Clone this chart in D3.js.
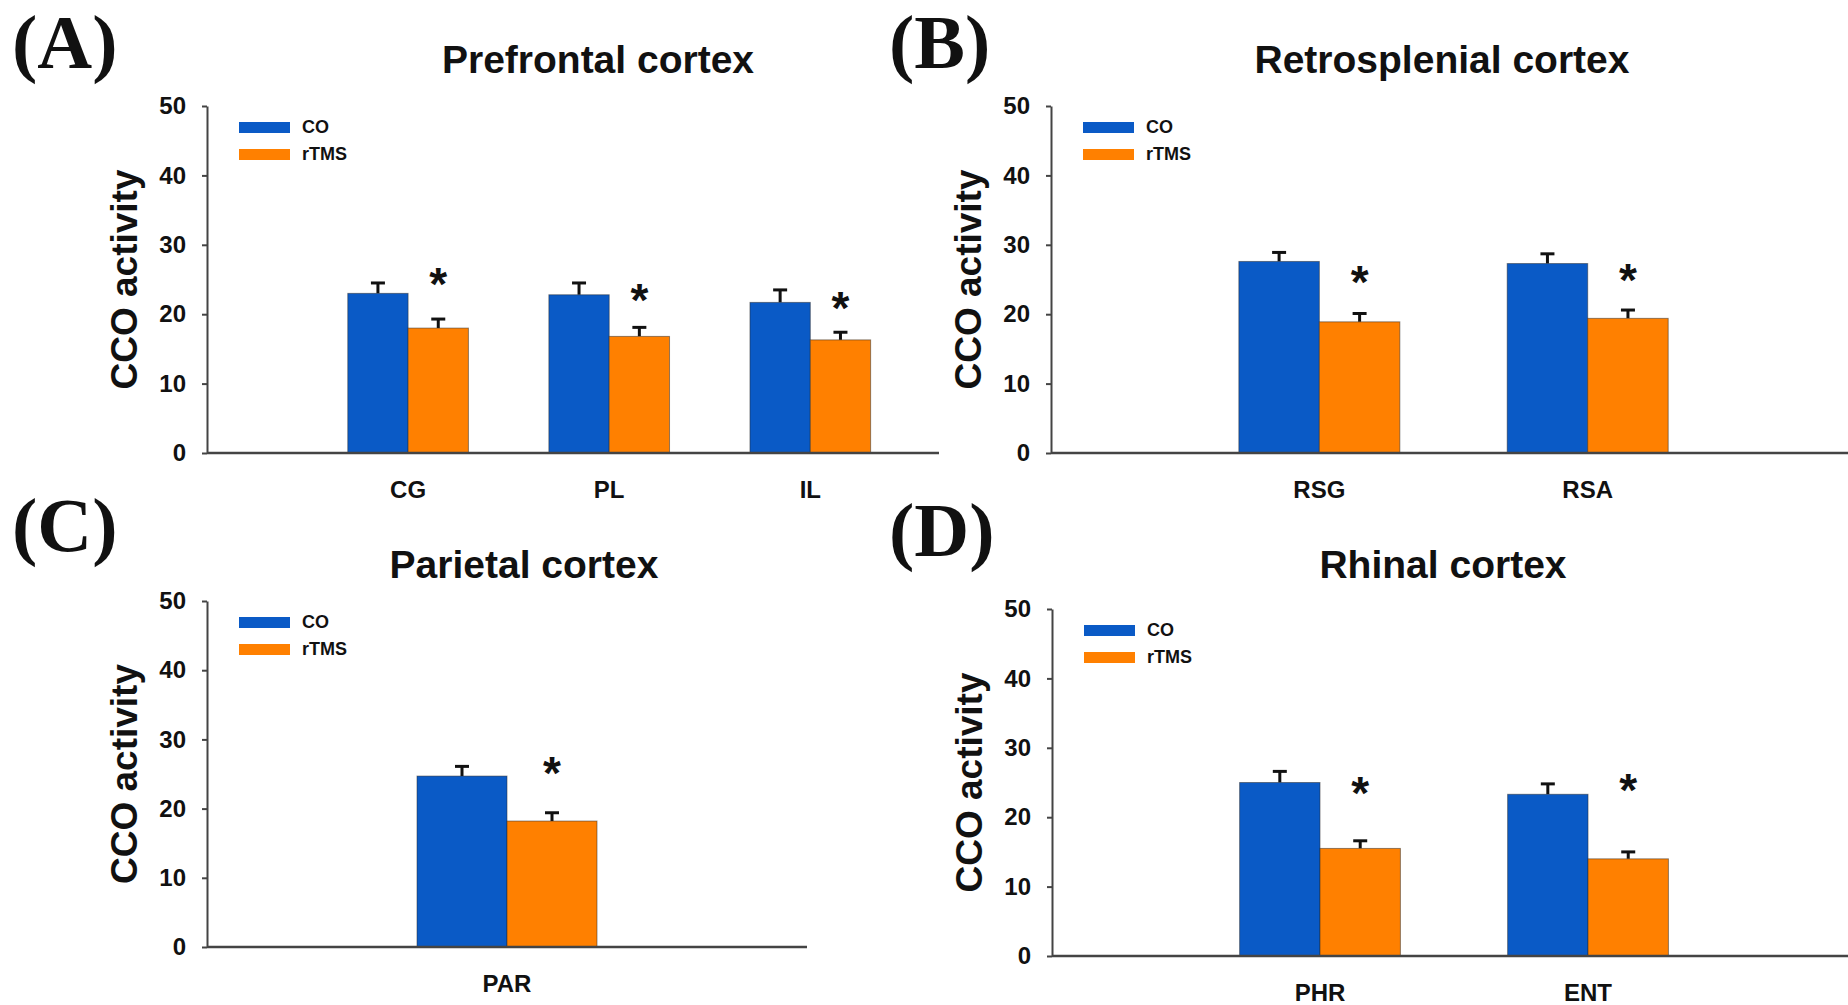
<!DOCTYPE html>
<html>
<head>
<meta charset="utf-8">
<script src="https://cdn.jsdelivr.net/npm/d3@7"></script>
<style>
    body { margin: 0; background: #fff; }
    svg { display: block; }
    text { font-family: "Liberation Sans", Arial, sans-serif; font-weight: bold; fill: #111; }
    .panel-tag { font-family: "Liberation Serif", "Times New Roman", serif; font-size: 76px; }
    .title { font-size: 39px; }
    .ytitle { font-size: 37px; }
    .tick text { font-size: 24px; }
    .cat { font-size: 24px; }
    .legend { font-size: 18px; }
    .star { font-size: 46px; }
</style>
</head>
<body>
<svg id="chart"></svg>
<script>
// values
var seriesNames = ["CO", "rTMS"];
var yTicks = [0, 10, 20, 30, 40, 50];

var catsA = ["CG", "PL", "IL"];
var coA = [23.0, 22.8, 21.7];
var coErrA = [1.5, 1.7, 1.8];
var rtmsA = [18.0, 16.8, 16.3];
var rtmsErrA = [1.3, 1.3, 1.1];
var starA = [24.8, 22.5, 21.3];

var catsB = ["RSG", "RSA"];
var coB = [27.6, 27.3];
var coErrB = [1.3, 1.4];
var rtmsB = [18.9, 19.4];
var rtmsErrB = [1.2, 1.2];
var starB = [25.1, 25.3];

var catsC = ["PAR"];
var coC = [24.7];
var coErrC = [1.4];
var rtmsC = [18.2];
var rtmsErrC = [1.2];
var starC = [25.6];

var catsD = ["PHR", "ENT"];
var coD = [25.0, 23.3];
var coErrD = [1.6, 1.5];
var rtmsD = [15.5, 14.0];
var rtmsErrD = [1.1, 1.0];
var starD = [23.9, 24.4];

var width = 1848;
var height = 1005;
var colors = ["#0a5ac6", "#ff8000"];
var barWidth = 0.3;   // in category units

var svg = d3.select("#chart")
            .attr("width", width)
            .attr("height", height);

var panels = [
    { tag: "(A)", title: "Prefrontal cortex", cats: catsA, co: coA, coErr: coErrA, rtms: rtmsA, rtmsErr: rtmsErrA, star: starA,
      x0: 207, x1: 939, xMax: 3.64, yTop: 106, yZero: 453, tagX: 12, tagY: 68, titleX: 598, titleY: 73 },
    { tag: "(B)", title: "Retrosplenial cortex", cats: catsB, co: coB, coErr: coErrB, rtms: rtmsB, rtmsErr: rtmsErrB, star: starB,
      x0: 1051, x1: 1848, xMax: 2.97, yTop: 106, yZero: 453, tagX: 889, tagY: 68, titleX: 1442, titleY: 73 },
    { tag: "(C)", title: "Parietal cortex", cats: catsC, co: coC, coErr: coErrC, rtms: rtmsC, rtmsErr: rtmsErrC, star: starC,
      x0: 207, x1: 807, xMax: 2, yTop: 601, yZero: 947, tagX: 12, tagY: 551, titleX: 524, titleY: 578 },
    { tag: "(D)", title: "Rhinal cortex", cats: catsD, co: coD, coErr: coErrD, rtms: rtmsD, rtmsErr: rtmsErrD, star: starD,
      x0: 1052, x1: 1848, xMax: 2.97, yTop: 609, yZero: 956, tagX: 889, tagY: 556, titleX: 1443, titleY: 578 }
];

var drawPanel = function(p) {
    var g = svg.append("g").attr("class", "panel");

    var x = d3.scaleLinear().domain([0, p.xMax]).range([p.x0, p.x1]);
    var y = d3.scaleLinear().domain([0, 50]).range([p.yZero, p.yTop]);

    g.append("text")
        .attr("class", "panel-tag")
        .attr("x", p.tagX)
        .attr("y", p.tagY)
        .text(p.tag);

    g.append("text")
        .attr("class", "title")
        .attr("text-anchor", "middle")
        .attr("x", p.titleX)
        .attr("y", p.titleY)
        .text(p.title);

    // y axis
    var yAxis = g.append("g")
        .attr("transform", "translate(" + p.x0 + ",0)")
        .call(d3.axisLeft(y).tickValues(yTicks).tickSize(5).tickSizeOuter(0).tickPadding(16));
    yAxis.select(".domain").attr("stroke", "#444").attr("stroke-width", 2);
    yAxis.selectAll(".tick line").attr("stroke", "#444").attr("stroke-width", 2);
    yAxis.selectAll(".tick text").attr("fill", "#111");

    g.append("text")
        .attr("class", "ytitle")
        .attr("text-anchor", "middle")
        .attr("transform", "translate(" + (p.x0 - 70) + "," + ((p.yTop + p.yZero) / 2) + ") rotate(-90)")
        .text("CCO activity");

    // bars
    var groups = [
        { vals: p.co, errs: p.coErr, off: -barWidth, color: colors[0] },
        { vals: p.rtms, errs: p.rtmsErr, off: 0, color: colors[1] }
    ];

    groups.forEach(function(s) {
        var pos = function(d, i) { return x(i + 1 + s.off); };
        var mid = function(d, i) { return x(i + 1 + s.off + barWidth / 2); };

        g.selectAll(null)
            .data(s.vals)
            .enter()
            .append("line")
            .attr("x1", mid)
            .attr("x2", mid)
            .attr("y1", function(d) { return y(d); })
            .attr("y2", function(d, i) { return y(d + s.errs[i]); })
            .attr("stroke", "#111")
            .attr("stroke-width", 3);

        g.selectAll(null)
            .data(s.vals)
            .enter()
            .append("line")
            .attr("x1", function(d, i) { return mid(d, i) - 7; })
            .attr("x2", function(d, i) { return mid(d, i) + 7; })
            .attr("y1", function(d, i) { return y(d + s.errs[i]); })
            .attr("y2", function(d, i) { return y(d + s.errs[i]); })
            .attr("stroke", "#111")
            .attr("stroke-width", 3);

        g.selectAll(null)
            .data(s.vals)
            .enter()
            .append("rect")
            .attr("x", pos)
            .attr("y", function(d) { return y(d); })
            .attr("width", function(d, i) { return x(i + 1 + s.off + barWidth) - pos(d, i); })
            .attr("height", function(d) { return y(0) - y(d); })
            .attr("fill", s.color)
            .attr("stroke", "rgba(40,40,40,0.5)")
            .attr("stroke-width", 1);
    });

    // significance stars
    g.selectAll("text.star")
        .data(p.star)
        .enter()
        .append("text")
        .attr("class", "star")
        .attr("text-anchor", "middle")
        .attr("x", function(d, i) { return x(i + 1 + barWidth / 2); })
        .attr("y", function(d) { return y(d) + 19; })
        .text("*");

    // x axis line
    g.append("line")
        .attr("x1", x(0))
        .attr("x2", x(p.xMax))
        .attr("y1", y(0))
        .attr("y2", y(0))
        .attr("stroke", "#444")
        .attr("stroke-width", 2.5);

    g.selectAll("text.cat")
        .data(p.cats)
        .enter()
        .append("text")
        .attr("class", "cat")
        .attr("text-anchor", "middle")
        .attr("x", function(d, i) { return x(i + 1); })
        .attr("y", y(0) + 45)
        .text(String);

    // legend
    var leg = g.append("g")
        .attr("transform", "translate(" + (p.x0 + 32) + "," + (p.yTop + 16) + ")");
    seriesNames.forEach(function(name, i) {
        leg.append("rect")
            .attr("x", 0)
            .attr("y", i * 27)
            .attr("width", 51)
            .attr("height", 11)
            .attr("fill", colors[i]);
        leg.append("text")
            .attr("class", "legend")
            .attr("x", 63)
            .attr("y", i * 27 + 11)
            .text(name);
    });
};

panels.forEach(drawPanel);
</script>
</body>
</html>
